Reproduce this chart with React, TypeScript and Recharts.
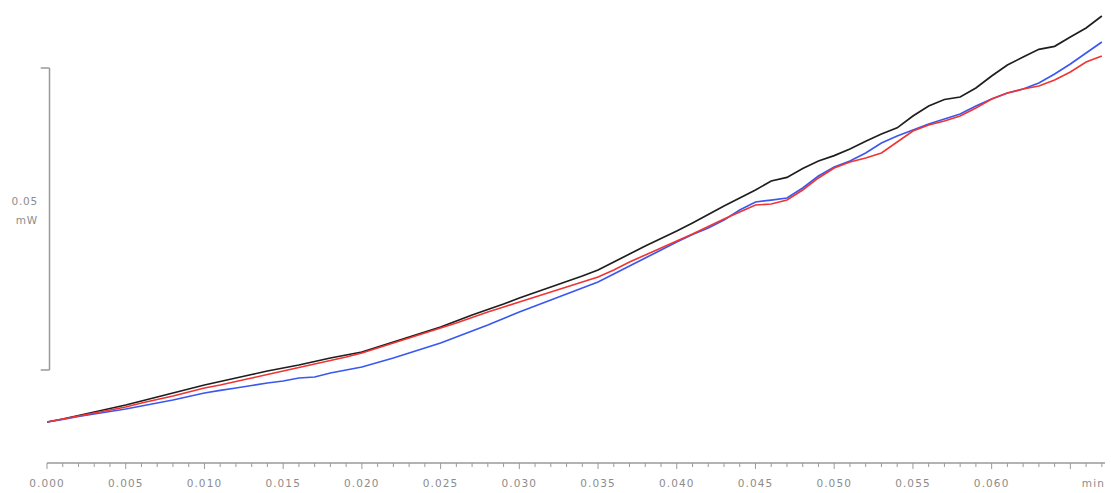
import { LineChart, Line, XAxis, YAxis, ReferenceLine } from "recharts"

// time in min, heat flow in mW (relative to start)
const time = [
  0, 0.001, 0.002, 0.003, 0.004, 0.005, 0.006, 0.007, 0.008, 0.009,
  0.01, 0.011, 0.012, 0.013, 0.014, 0.015, 0.016, 0.017, 0.018, 0.019,
  0.02, 0.021, 0.022, 0.023, 0.024, 0.025, 0.026, 0.027, 0.028, 0.029,
  0.03, 0.031, 0.032, 0.033, 0.034, 0.035, 0.036, 0.037, 0.038, 0.039,
  0.04, 0.041, 0.042, 0.043, 0.044, 0.045, 0.046, 0.047, 0.048, 0.049,
  0.05, 0.051, 0.052, 0.053, 0.054, 0.055, 0.056, 0.057, 0.058, 0.059,
  0.06, 0.061, 0.062, 0.063, 0.064, 0.065, 0.066, 0.067,
]

const blackRun = [
  0, 0.0005, 0.00108, 0.00166, 0.00224, 0.00281, 0.00348, 0.00414, 0.0048, 0.00546,
  0.00613, 0.00671, 0.00728, 0.00786, 0.00844, 0.00894, 0.00944, 0.01002, 0.0106, 0.01109,
  0.01159, 0.01242, 0.01324, 0.01407, 0.0149, 0.01573, 0.01672, 0.01771, 0.01863, 0.01954,
  0.02053, 0.02144, 0.02235, 0.02326, 0.02417, 0.02517, 0.02649, 0.02781, 0.02914, 0.03038,
  0.03162, 0.03295, 0.03435, 0.03576, 0.03709, 0.03841, 0.0399, 0.0405, 0.04197, 0.04321,
  0.0441, 0.0452, 0.0465, 0.04768, 0.0487, 0.05066, 0.05232, 0.0534, 0.05381, 0.0553,
  0.05728, 0.0591, 0.06043, 0.0617, 0.0622, 0.06374, 0.06523, 0.06722,
]

const redRun = [
  0, 0.0005, 0.00099, 0.00149, 0.00199, 0.00248, 0.00315, 0.00373, 0.0043, 0.00497,
  0.00563, 0.00613, 0.00671, 0.00728, 0.00786, 0.00844, 0.00902, 0.0096, 0.01018, 0.01076,
  0.01142, 0.01225, 0.01308, 0.01391, 0.01473, 0.01556, 0.01639, 0.0173, 0.01821, 0.01904,
  0.01987, 0.0207, 0.02152, 0.02235, 0.02318, 0.02401, 0.02517, 0.02649, 0.02765, 0.02881,
  0.02997, 0.03113, 0.03237, 0.03361, 0.03477, 0.03593, 0.03609, 0.03675, 0.03841, 0.0404,
  0.04205, 0.04305, 0.04371, 0.04454, 0.04636, 0.04818, 0.04917, 0.04983, 0.05066, 0.05199,
  0.05348, 0.05447, 0.05513, 0.05563, 0.05662, 0.05795, 0.0596, 0.06059,
]

const blueRun = [
  0, 0.00041, 0.00091, 0.00132, 0.00174, 0.00215, 0.00265, 0.00315, 0.00364, 0.00422,
  0.0048, 0.00522, 0.00563, 0.00604, 0.00646, 0.00679, 0.00728, 0.00745, 0.00811, 0.00861,
  0.00911, 0.00985, 0.0106, 0.01142, 0.01225, 0.01308, 0.01407, 0.01507, 0.01606, 0.01714,
  0.01821, 0.0192, 0.0202, 0.02119, 0.02219, 0.02318, 0.0245, 0.02583, 0.02715, 0.02848,
  0.0298, 0.03104, 0.03212, 0.03344, 0.0351, 0.03642, 0.03675, 0.03709, 0.03874, 0.04073,
  0.04222, 0.04321, 0.04454, 0.04619, 0.04735, 0.04834, 0.04934, 0.05016, 0.05099, 0.05232,
  0.05348, 0.05447, 0.05513, 0.05612, 0.05761, 0.05927, 0.06109, 0.06291,
]

const majorStep = 0.005
const tickLabels = [
  "0.000", "0.005", "0.010", "0.015", "0.020", "0.025", "0.030",
  "0.035", "0.040", "0.045", "0.050", "0.055", "0.060", "min",
]
const scaleBar = [0.00861, 0.05861] // 0.05 mW

const data = time.map((t, i) => ({
  t,
  black: blackRun[i],
  red: redRun[i],
  blue: blueRun[i],
}))

const grey = "#9a9a9a"
const font = "'DejaVu Sans', sans-serif"

function AxisTick({ x, y, payload }: { x?: number; y?: number; payload?: { value: number } }) {
  const v = payload?.value ?? 0
  const k = Math.round(v / majorStep)
  const major = Math.abs(v - k * majorStep) < 1e-7
  const label = major ? tickLabels[k] : null
  const isUnit = label === "min"
  return (
    <g>
      <line x1={x} x2={x} y1={y} y2={(y ?? 0) + (major ? 6 : 4)} stroke={grey} strokeWidth={1} />
      {label && (
        <text
          x={(x ?? 0) + (isUnit ? 23 : 0)}
          y={(y ?? 0) + 24}
          textAnchor="middle"
          fontFamily={font}
          fontSize={10.5}
          letterSpacing={1.1}
          fill="#8c8c8c"
        >
          {label}
        </text>
      )}
    </g>
  )
}

export default function App() {
  const barX = 0.00016
  const barTickX = -0.0004
  return (
    <div style={{ position: "absolute", left: 0, top: 0, width: 1111, height: 493, background: "#fff" }}>
      <LineChart width={1111} height={493} data={data} margin={{ top: 0, right: 6, bottom: 0, left: 47 }}>
        <XAxis
          dataKey="t"
          type="number"
          domain={[0, 0.0672]}
          ticks={time}
          interval={0}
          height={30}
          tickSize={0}
          tickMargin={0}
          tickLine={false}
          axisLine={{ stroke: grey, strokeWidth: 1.5 }}
          tick={<AxisTick />}
          allowDataOverflow
        />
        <YAxis hide type="number" domain={[-0.00679, 0.06987]} allowDataOverflow />
        <ReferenceLine
          segment={[{ x: barX, y: scaleBar[0] }, { x: barX, y: scaleBar[1] }]}
          stroke={grey}
          strokeWidth={1.5}
          ifOverflow="visible"
        />
        <ReferenceLine
          segment={[{ x: barTickX, y: scaleBar[1] }, { x: barX, y: scaleBar[1] }]}
          stroke={grey}
          strokeWidth={1.5}
          ifOverflow="visible"
        />
        <ReferenceLine
          segment={[{ x: barTickX, y: scaleBar[0] }, { x: barX, y: scaleBar[0] }]}
          stroke={grey}
          strokeWidth={1.5}
          ifOverflow="visible"
        />
        <Line dataKey="black" stroke="#1e1e1e" strokeWidth={1.7} dot={false} isAnimationActive={false} />
        <Line dataKey="blue" stroke="#3a58f0" strokeWidth={1.7} dot={false} isAnimationActive={false} />
        <Line dataKey="red" stroke="#f03434" strokeWidth={1.6} dot={false} isAnimationActive={false} />
      </LineChart>
      <div
        style={{
          position: "absolute",
          left: 0,
          top: 192,
          width: 38,
          textAlign: "right",
          fontFamily: font,
          fontSize: 10.5,
          lineHeight: "19px",
          color: "#8c8c8c",
          letterSpacing: 0.8,
        }}
      >
        <div>0.05</div>
        <div>mW</div>
      </div>
    </div>
  )
}
